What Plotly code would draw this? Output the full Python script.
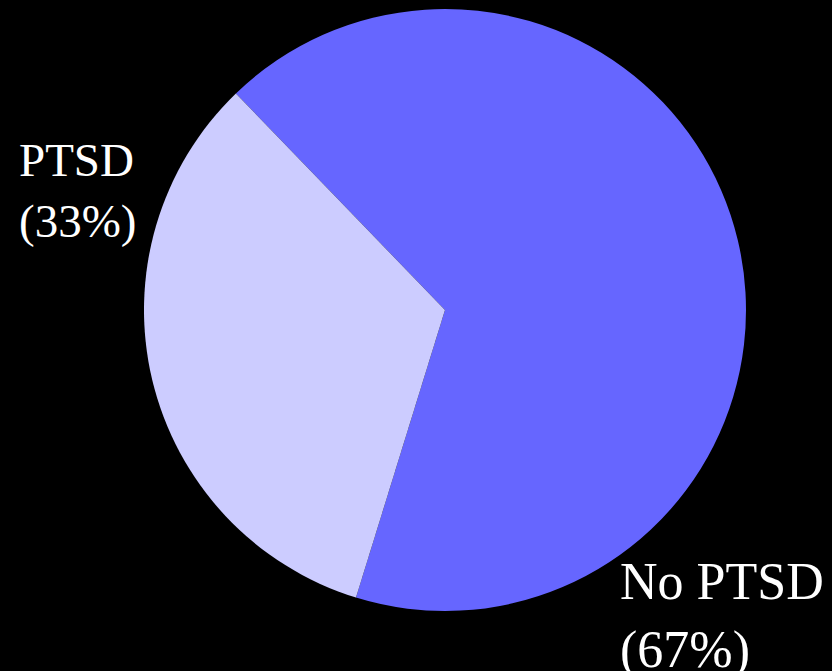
import plotly.graph_objects as go

# Share of respondents with and without PTSD
labels = ["No PTSD", "PTSD"]
values = [67, 33]
colors = ["#6666ff", "#ccccff"]

W, H = 832, 671

fig = go.Figure(
    go.Pie(
        labels=labels,
        values=values,
        sort=False,
        direction="clockwise",
        rotation=-44,
        marker=dict(colors=colors, line=dict(width=0)),
        textinfo="none",
        hoverinfo="label+percent",
        domain=dict(x=[144 / W, 746 / W], y=[1 - 611 / H, 1 - 9 / H]),
        showlegend=False,
    )
)

# Slice captions: name with its percentage on a second line
caption_font = "Liberation Serif, Times New Roman, serif"
placements = {
    "PTSD": dict(x=17 / W, y=1 - 132 / H, size=47),
    "No PTSD": dict(x=618 / W, y=1 - 551 / H, size=52),
}
for lab, val in zip(labels, values):
    p = placements[lab]
    fig.add_annotation(
        text=f"{lab}<br>({val}%)",
        x=p["x"], y=p["y"], xref="paper", yref="paper",
        xanchor="left", yanchor="top", align="left",
        showarrow=False,
        font=dict(family=caption_font, size=p["size"], color="white"),
    )

fig.update_layout(
    width=W, height=H,
    margin=dict(l=0, r=0, t=0, b=0),
    paper_bgcolor="black",
    plot_bgcolor="black",
)

fig.write_html("out.html")
